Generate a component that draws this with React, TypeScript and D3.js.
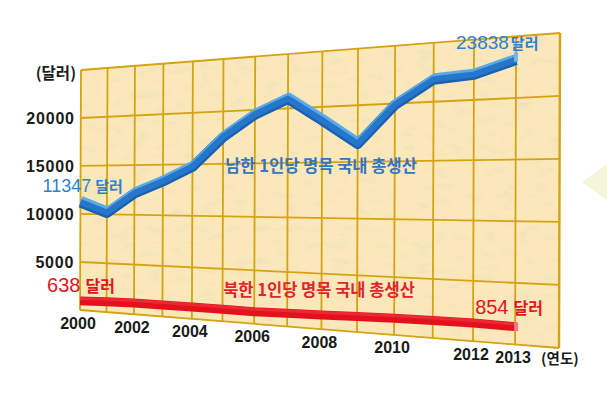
import React from "react";
import * as d3 from "d3";

const years = [2000, 2001, 2002, 2003, 2004, 2005, 2006, 2007, 2008, 2009, 2010, 2011, 2012, 2013];
const southValues = [11347, 10300, 12300, 13500, 14900, 17700, 19700, 21000, 18900, 16700, 20000, 22000, 22200, 23200];
const northValues = [950, 1050, 1130, 1150, 1160, 1140, 1120, 1200, 1270, 1360, 1450, 1480, 1500, 1450];
const yTickValues = [5000, 10000, 15000, 20000];
const xTickYears = [2000, 2002, 2004, 2006, 2008, 2010, 2012, 2013];
const gridYears = d3.range(2000, 2015);
const gridValues = [0, 5000, 10000, 15000, 20000, 25000];
const southLabel = "남한 1인당 명목 국내 총생산";
const northLabel = "북한 1인당 명목 국내 총생산";
const southFirst = "11347";
const southLast = "23838";
const northFirst = "638";
const northLast = "854";
const unit = "달러";
const yUnit = "(달러)";
const xUnit = "(연도)";

// perspective panel corners: bottom-left, bottom-right, top-right, top-left
const BL = [80, 310];
const BR = [559, 348];
const TR = [560, 33];
const TL = [81, 70];

function makeHomography() {
  const [x0, y0] = BL, [x1, y1] = BR, [x2, y2] = TR, [x3, y3] = TL;
  const dx1 = x1 - x2, dx2 = x3 - x2, dx3 = x0 - x1 + x2 - x3;
  const dy1 = y1 - y2, dy2 = y3 - y2, dy3 = y0 - y1 + y2 - y3;
  const den = dx1 * dy2 - dx2 * dy1;
  const g = (dx3 * dy2 - dx2 * dy3) / den;
  const h = (dx1 * dy3 - dx3 * dy1) / den;
  const a = x1 - x0 + g * x1, b = x3 - x0 + h * x3, c = x0;
  const d = y1 - y0 + g * y1, e = y3 - y0 + h * y3, f = y0;
  return (u: number, v: number): [number, number] => {
    const w = g * u + h * v + 1;
    return [(a * u + b * v + c) / w, (d * u + e * v + f) / w];
  };
}

const H = makeHomography();
const uScale = d3.scaleLinear().domain([2000, 2014]).range([0, 1]);
const vScale = d3.scaleLinear().domain([0, 25000]).range([0, 1]);
const P = (year: number, value: number) => H(uScale(year), vScale(value));

const NUM = "'Liberation Sans', Arial, sans-serif";
const KR = "'Noto Sans CJK KR', 'Noto Sans', sans-serif";

export default function App() {
  const line = d3.line<[number, number]>().x((p) => p[0]).y((p) => p[1]);
  const southPts = years.map((y, i) => P(y, southValues[i]));
  const northPts = years.map((y, i) => P(y, northValues[i]));
  const southPath = line(southPts) || "";
  const northPath = line(northPts) || "";
  const panel = [P(2000, 0), P(2014, 0), P(2014, 25000), P(2000, 25000)];
  const panelStr = panel.map((p) => p.join(",")).join(" ");
  const gridColor = "#d4a312";
  const blue = "#2f7fcf";
  const red = "#e3141d";

  const s0 = southPts[0];
  const sN = southPts[southPts.length - 1];
  const n0 = northPts[0];
  const nN = northPts[northPts.length - 1];

  return (
    <svg width={607} height={418} style={{ position: "absolute", left: 0, top: 0, background: "#fff" }}>
      <defs>
        <clipPath id="panelClip">
          <polygon points={panelStr} />
        </clipPath>
        <filter id="paper" x="0" y="0" width="1" height="1">
          <feTurbulence type="fractalNoise" baseFrequency="0.06 0.12" numOctaves={3} seed={5} result="n" />
          <feColorMatrix
            in="n"
            type="matrix"
            values="0 0 0 0 0.74  0 0 0 0 0.68  0 0 0 0 0.55  3 0 0 0 -1.6"
          />
        </filter>
      </defs>
      {/* decorative arrow at right */}
      <polygon points="582,182 607,164 607,200" fill="#f4f5da" />
      {/* panel */}
      <polygon points={panelStr} fill="#fbe8ba" />
      <g clipPath="url(#panelClip)">
        <rect x={60} y={20} width={520} height={340} filter="url(#paper)" opacity={0.35} />
      </g>
      {/* grid */}
      {gridValues.map((v) => {
        const a = P(2000, v), b = P(2014, v);
        return <line key={"h" + v} x1={a[0]} y1={a[1]} x2={b[0]} y2={b[1]} stroke={gridColor} strokeWidth={1.8} />;
      })}
      {gridYears.map((yr) => {
        const a = P(yr, 0), b = P(yr, 25000);
        return <line key={"v" + yr} x1={a[0]} y1={a[1]} x2={b[0]} y2={b[1]} stroke={gridColor} strokeWidth={yr === 2014 ? 2.4 : 1.8} />;
      })}
      {/* south line (3D ribbon) */}
      <path d={southPath} fill="none" stroke="#1a60b0" strokeWidth={10} strokeLinejoin="round" transform="translate(0,1.5)" />
      <path d={southPath} fill="none" stroke="#5aaae8" strokeWidth={6} strokeLinejoin="round" transform="translate(1,-2)" />
      <path d={southPath} fill="none" stroke="#2677cc" strokeWidth={6} strokeLinejoin="round" transform="translate(0,1)" />
      <rect x={sN[0] - 2} y={sN[1] - 6} width={4} height={9} fill="#6ab8ee" />
      {/* north line */}
      <path d={northPath} fill="none" stroke="#e4101c" strokeWidth={9} strokeLinejoin="round" />
      <path d={northPath} fill="none" stroke="#ef3a44" strokeWidth={3} strokeLinejoin="round" transform="translate(0,-2.5)" opacity={0.6} />
      <rect x={nN[0] - 1} y={nN[1] - 4.5} width={4} height={9} fill="#f07a88" />

      {/* y axis labels */}
      {yTickValues.map((v) => {
        const p = P(2000, v);
        return (
          <text key={"yt" + v} x={p[0] - 6} y={p[1] + 6} textAnchor="end" fontFamily={NUM} fontWeight="bold" fontSize={16} letterSpacing={0.8} fill="#1a1a1a">
            {v}
          </text>
        );
      })}
      <text x={P(2000, 25000)[0] - 5} y={P(2000, 25000)[1] + 9} textAnchor="end" fontFamily={KR} fontWeight="bold" fontSize={15.5} fill="#1a1a1a">
        {yUnit}
      </text>
      {/* x axis labels */}
      {xTickYears.map((yr) => {
        const p = P(yr, 0);
        return (
          <text key={"xt" + yr} x={p[0] - 2} y={p[1] + 18.5} textAnchor="middle" fontFamily={NUM} fontWeight="bold" fontSize={16} fill="#1a1a1a">
            {yr}
          </text>
        );
      })}
      <text x={P(2013, 0)[0] + 26} y={P(2013, 0)[1] + 19.5} fontFamily={KR} fontWeight="bold" fontSize={14.5} fill="#1a1a1a">
        {xUnit}
      </text>

      {/* value labels */}
      <text x={s0[0] - 38} y={s0[1] - 9} fontFamily={NUM} fontSize={18} fill={blue}>
        {southFirst}
        <tspan fontFamily={KR} fontSize={15} fontWeight="bold" dx={4}>{unit}</tspan>
      </text>
      <text x={sN[0] - 60} y={sN[1] - 10} fontFamily={NUM} fontSize={19} fill={blue}>
        {southLast}
        <tspan fontFamily={KR} fontSize={15} fontWeight="bold" dx={2}>{unit}</tspan>
      </text>
      <text x={n0[0] - 33} y={n0[1] - 9} fontFamily={NUM} fontSize={20} fill={red}>
        {northFirst}
        <tspan fontFamily={KR} fontSize={16} fontWeight="bold" dx={5}>{unit}</tspan>
      </text>
      <text x={nN[0] - 40} y={nN[1] - 13} fontFamily={NUM} fontSize={20} fill={red}>
        {northLast}
        <tspan fontFamily={KR} fontSize={16} fontWeight="bold" dx={5}>{unit}</tspan>
      </text>
      {/* series names */}
      <text x={321} y={172} textAnchor="middle" fontFamily={KR} fontWeight="bold" fontSize={16.5} fill="#3474c2">
        {southLabel}
      </text>
      <text x={319} y={296} textAnchor="middle" fontFamily={KR} fontWeight="bold" fontSize={16.5} fill="#e0262c">
        {northLabel}
      </text>
    </svg>
  );
}
